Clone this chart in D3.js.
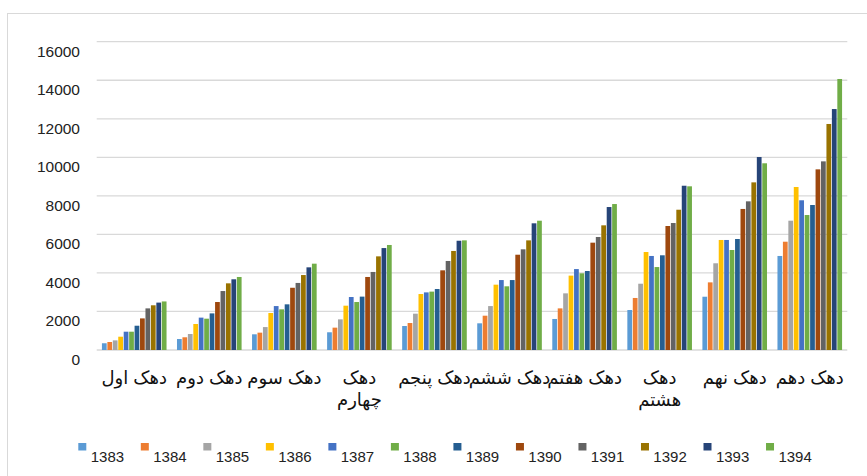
<!DOCTYPE html>
<html>
<head>
<meta charset="utf-8">
<script src="https://d3js.org/d3.v7.min.js"></script>
<style>
  body { margin: 0; background: #fff; }
  #chart-container { width: 867px; height: 476px; }
  .grid line { stroke: #d9d9d9; stroke-width: 1.3px; }
  .tick-label { font-family: "Liberation Sans", Arial, sans-serif; font-size: 15.5px; fill: #222; }
  .cat-label { font-family: "Liberation Sans", Arial, "DejaVu Sans", sans-serif; font-size: 18px; fill: #111; }
  .legend-label { font-family: "Liberation Sans", Arial, sans-serif; font-size: 15px; fill: #222; }
</style>
</head>
<body>
<div id="chart-container"></div>

<script>
  // categories (deciles) and years
  const categories = ['دهک اول', 'دهک دوم', 'دهک سوم', 'دهک چهارم', 'دهک پنجم',
                      'دهک ششم', 'دهک هفتم', 'دهک هشتم', 'دهک نهم', 'دهک دهم'];
  const years = ['1383', '1384', '1385', '1386', '1387', '1388',
                 '1389', '1390', '1391', '1392', '1393', '1394'];
  const colors = ['#5B9BD5', '#ED7D31', '#A5A5A5', '#FFC000', '#4472C4', '#70AD47',
                  '#255E91', '#9E480E', '#636363', '#997300', '#264478', '#70AD47'];

  // one array per decile, values for 1383..1394
  const decile1  = [350, 415, 500, 690, 950, 950, 1260, 1640, 2160, 2320, 2460, 2520];
  const decile2  = [570, 660, 830, 1350, 1680, 1625, 1900, 2490, 3060, 3460, 3670, 3790];
  const decile3  = [815, 900, 1190, 1920, 2280, 2110, 2370, 3230, 3480, 3890, 4290, 4480];
  const decile4  = [920, 1160, 1590, 2300, 2750, 2490, 2770, 3790, 4050, 4860, 5290, 5450];
  const decile5  = [1245, 1400, 1885, 2905, 2990, 3030, 3165, 4135, 4620, 5140, 5670, 5690];
  const decile6  = [1385, 1780, 2280, 3390, 3630, 3305, 3630, 4945, 5225, 5690, 6575, 6710];
  const decile7  = [1610, 2160, 2940, 3860, 4200, 3980, 4100, 5570, 5865, 6470, 7420, 7575];
  const decile8  = [2075, 2700, 3440, 5085, 4880, 4305, 4915, 6435, 6590, 7280, 8525, 8495];
  const decile9  = [2765, 3510, 4500, 5710, 5710, 5190, 5760, 7320, 7715, 8700, 10015, 9690];
  const decile10 = [4880, 5620, 6710, 8460, 7770, 7005, 7525, 9375, 9790, 11730, 12505, 14065];
  const values = [decile1, decile2, decile3, decile4, decile5,
                  decile6, decile7, decile8, decile9, decile10];

  const yTicks = [0, 2000, 4000, 6000, 8000, 10000, 12000, 14000, 16000];
  // labels that Excel broke onto two lines
  const wrapLabels = [3, 7];

  const width = 867, height = 476;
  const svg = d3.select("#chart-container").append("svg")
    .attr("width", width).attr("height", height);

  // outer chart border
  svg.append("rect")
    .attr("x", 7.5).attr("y", 13.5)
    .attr("width", 880).attr("height", 480)
    .attr("fill", "none").attr("stroke", "#d9d9d9").attr("stroke-width", 1);

  const x0 = d3.scaleBand().domain(d3.range(categories.length))
    .range([96.7, 847.3]).paddingInner(0.13).paddingOuter(0.065);
  const x1 = d3.scaleBand().domain(d3.range(years.length))
    .range([0, x0.bandwidth()]);
  const y = d3.scaleLinear().domain([0, 16000]).range([350, 41.7]);

  // gridlines
  svg.append("g").attr("class", "grid")
    .selectAll("line").data(yTicks).enter().append("line")
    .attr("x1", 96.7).attr("x2", 847.3)
    .attr("y1", d => y(d)).attr("y2", d => y(d));

  // y tick labels (sit a bit below their gridline like the original)
  svg.append("g").selectAll("text").data(yTicks).enter().append("text")
    .attr("class", "tick-label")
    .attr("x", 80).attr("y", d => y(d) + 15)
    .attr("text-anchor", "end")
    .text(d => d);

  // bars
  const groups = svg.append("g").selectAll("g").data(values).enter().append("g")
    .attr("transform", (d, i) => `translate(${x0(i)},0)`);

  groups.selectAll("rect").data(d => d).enter().append("rect")
    .attr("x", (d, j) => x1(j) + 0.35)
    .attr("width", x1.bandwidth() - 0.7)
    .attr("y", d => y(d))
    .attr("height", d => y(0) - y(d))
    .attr("fill", (d, j) => colors[j]);

  // category labels
  const catLabels = svg.append("g").selectAll("text").data(categories).enter().append("text")
    .attr("class", "cat-label")
    .attr("text-anchor", "middle")
    .attr("direction", "rtl")
    .attr("y", 384);

  catLabels.each(function (d, i) {
    const t = d3.select(this);
    const cx = x0(i) + x0.bandwidth() / 2;
    if (wrapLabels.includes(i)) {
      const words = d.split(' ');
      t.append("tspan").attr("x", cx).attr("y", 384).text(words[0]);
      t.append("tspan").attr("x", cx).attr("y", 406).text(words.slice(1).join(' '));
    } else {
      t.attr("x", cx).text(d);
    }
  });

  // legend
  const legend = svg.append("g").selectAll("g").data(years).enter().append("g")
    .attr("transform", (d, i) => `translate(${78.3 + 62.52 * i},0)`);

  legend.append("rect")
    .attr("x", 0).attr("y", 443)
    .attr("width", 8).attr("height", 7.5)
    .attr("fill", (d, i) => colors[i]);

  legend.append("text")
    .attr("class", "legend-label")
    .attr("x", 12.4).attr("y", 461.5)
    .text(d => d);
</script>
</body>
</html>
